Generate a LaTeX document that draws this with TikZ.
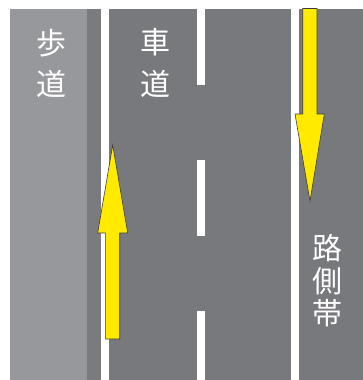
\documentclass[tikz,border=0pt]{standalone}
\usepackage{fontspec}
\newfontfamily\cjk{Noto Sans CJK JP}
\definecolor{walk}{RGB}{151,152,156}
\definecolor{curb}{RGB}{122,123,127}
\definecolor{road}{RGB}{120,121,125}
\definecolor{arrowy}{RGB}{255,234,0}
\definecolor{edge}{RGB}{60,60,60}
\begin{document}
\begin{tikzpicture}[x=1pt,y=-1pt,
  lbl/.style={text=white,font=\cjk\fontsize{30}{30}\selectfont,inner sep=0pt},
  arr/.style={fill=arrowy,draw=edge,line width=0.6pt,line join=miter}]
\useasboundingbox (0,0) rectangle (363,380);
% surfaces
\fill[walk] (10,9) rectangle (87,380);
\fill[curb] (87,9) rectangle (101,380);
\fill[road] (109,9) rectangle (291,380);
\fill[road] (299,9) rectangle (363,380);
% center dashed line
\fill[white] (197,9) rectangle (205,85);
\fill[white] (197,160) rectangle (205,236);
\fill[white] (197,311) rectangle (205,380);
% arrows
\draw[arr] (112.7,145) -- (127.7,233) -- (119.7,233) -- (119.7,339) -- (105.3,339) -- (105.3,233) -- (97.7,233) -- cycle;
\draw[arr] (302.7,8.5) -- (317,8.5) -- (317,114) -- (324.3,114) -- (310,201) -- (295,114) -- (302.7,114) -- cycle;
% labels
\node[lbl] (h1) at (51.5,43.5) {歩};
\node[lbl] (h2) at (51.5,83.5) {道};
\node[lbl] (s1) at (155,42.5) {車};
\node[lbl] (s2) at (155,83.5) {道};
\node[lbl] (r1) at (327,248) {路};
\node[lbl] (r2) at (327,281) {側};
\node[lbl] (r3) at (327,313.5) {帯};
\end{tikzpicture}
\end{document}
